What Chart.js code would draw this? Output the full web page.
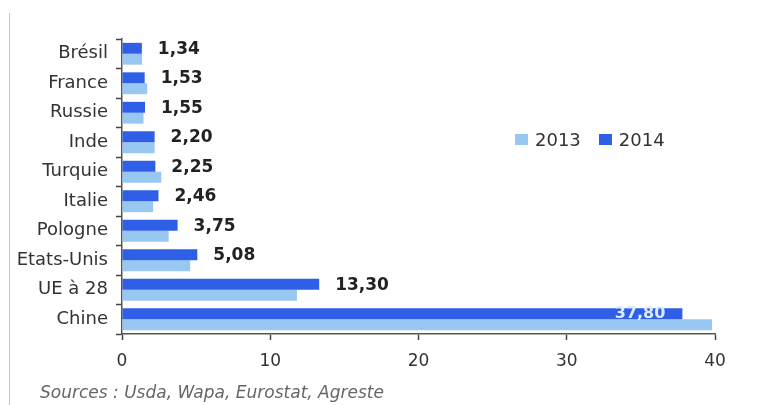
<!DOCTYPE html>
<html>
<head>
<meta charset="utf-8">
<title>Production par pays 2013-2014</title>
<script src="https://cdn.jsdelivr.net/npm/chart.js@4/dist/chart.umd.min.js"></script>
<style>
  html, body { margin: 0; padding: 0; background: #fff; }
  #wrap { position: relative; width: 764px; height: 405px; font-family: "DejaVu Sans", sans-serif; }
  #frame { position: absolute; left: 9px; top: 13px; bottom: 0; border-left: 1px solid #c4c4c4; }
  #legend { position: absolute; left: 515px; top: 129px; display: flex; align-items: center; font-size: 18px; color: #333; }
  #legend span.box { display: inline-block; width: 13px; height: 11px; margin-right: 7px; }
  #legend span.item { display: inline-flex; align-items: center; margin-right: 18px; }
  #sources { position: absolute; left: 40px; top: 382px; font-size: 17px; font-style: italic; color: #666; white-space: nowrap; }
</style>
</head>
<body>
<div id="wrap">
  <canvas id="chart"></canvas>
  <div id="frame"></div>
  <div id="legend"></div>
  <div id="sources">Sources : Usda, Wapa, Eurostat, Agreste</div>
</div>
<script>
// countries, top to bottom
const categories = ['Brésil', 'France', 'Russie', 'Inde', 'Turquie', 'Italie', 'Pologne', 'Etats-Unis', 'UE à 28', 'Chine'];
const values2014 = [1.34, 1.53, 1.55, 2.20, 2.25, 2.46, 3.75, 5.08, 13.30, 37.80];
const values2013 = [1.35, 1.70, 1.45, 2.20, 2.65, 2.10, 3.15, 4.60, 11.80, 39.80];
const seriesLabels = ['2013', '2014'];
const xMax = 40;
const xStep = 10;

const color2013 = '#98c8f2';
const color2014 = '#2e5fe6';

// value labels next to the 2014 bars (inside the bar when it is long)
const valueLabels = {
  id: 'valueLabels',
  afterDatasetsDraw(chart) {
    const ctx = chart.ctx;
    const meta = chart.getDatasetMeta(0);
    ctx.save();
    ctx.textBaseline = 'middle';
    meta.data.forEach((bar, i) => {
      const v = values2014[i];
      const txt = v.toFixed(2).replace('.', ',');
      if (v > 30) {
        ctx.font = 'bold 16px "DejaVu Sans"';
        ctx.fillStyle = '#dfe9ff';
        ctx.textAlign = 'right';
        ctx.fillText(txt, bar.x - 17, bar.y);
      } else {
        ctx.font = 'bold 17px "DejaVu Sans"';
        ctx.fillStyle = '#222';
        ctx.textAlign = 'left';
        ctx.fillText(txt, bar.x + 16, bar.y + 1);
      }
    });
    ctx.restore();
  }
};

const chart = new Chart(document.getElementById('chart'), {
  type: 'bar',
  data: {
    labels: categories,
    datasets: [
      { label: seriesLabels[1], data: values2014, backgroundColor: color2014, borderWidth: 0 },
      { label: seriesLabels[0], data: values2013, backgroundColor: color2013, borderWidth: 0 }
    ]
  },
  options: {
    indexAxis: 'y',
    responsive: true,
    maintainAspectRatio: false,
    animation: false,
    categoryPercentage: 0.74,
    barPercentage: 1.0,
    layout: { padding: { left: 0, right: 49, top: 39, bottom: 0 } },
    plugins: {
      legend: { display: false },
      tooltip: { enabled: false }
    },
    scales: {
      x: {
        min: 0,
        max: xMax,
        ticks: {
          stepSize: xStep,
          padding: 11,
          color: '#333',
          font: { family: 'DejaVu Sans', size: 17 }
        },
        grid: { drawOnChartArea: false, tickLength: 6, tickColor: '#444', tickWidth: 1.5 },
        border: { color: '#555', width: 1.5 },
        afterFit(scale) { scale.height = 71; }
      },
      y: {
        ticks: {
          padding: 8,
          color: '#333',
          font: { family: 'DejaVu Sans', size: 18 }
        },
        grid: { drawOnChartArea: false, tickLength: 6, tickColor: '#444', tickWidth: 1.5 },
        border: { color: '#555', width: 1.5 },
        afterFit(scale) { scale.width = 122; }
      }
    }
  },
  plugins: [valueLabels]
});

// legend in 2013, 2014 order, built from the datasets
const legend = document.getElementById('legend');
[1, 0].forEach(i => {
  const ds = chart.data.datasets[i];
  const item = document.createElement('span');
  item.className = 'item';
  const box = document.createElement('span');
  box.className = 'box';
  box.style.background = ds.backgroundColor;
  item.appendChild(box);
  item.appendChild(document.createTextNode(ds.label));
  legend.appendChild(item);
});
</script>
</body>
</html>
